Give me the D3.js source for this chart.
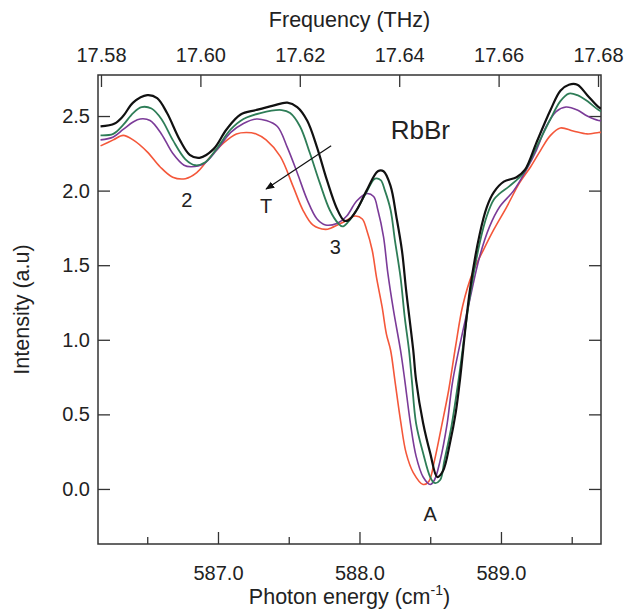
<!DOCTYPE html>
<html>
<head>
<meta charset="utf-8">
<script src="https://cdn.jsdelivr.net/npm/d3@7"></script>
<style>
  body { margin: 0; background: #fff; }
  svg { font-family: "Liberation Sans", Arial, sans-serif; }
  .tick text { font-size: 20px; fill: #222; }
</style>
</head>
<body>
<script>
const w = 626;
const h = 611;
const margin = { top: 75, right: 25, bottom: 67, left: 98 };

// photon energy (cm^-1), intensity (a.u.)
const black = [[586.17,2.43],[586.27,2.45],[586.33,2.50],[586.40,2.59],[586.50,2.64],[586.57,2.62],[586.64,2.52],[586.73,2.34],[586.80,2.24],[586.87,2.22],[586.97,2.28],[587.06,2.41],[587.16,2.51],[587.27,2.54],[587.39,2.57],[587.49,2.59],[587.56,2.56],[587.63,2.47],[587.70,2.29],[587.77,2.07],[587.84,1.88],[587.89,1.80],[587.92,1.80],[587.98,1.87],[588.05,2.00],[588.13,2.13],[588.17,2.13],[588.22,2.03],[588.26,1.83],[588.30,1.60],[588.33,1.33],[588.38,0.93],[588.40,0.73],[588.45,0.44],[588.50,0.24],[588.55,0.08],[588.59,0.12],[588.64,0.31],[588.68,0.51],[588.71,0.73],[588.78,1.33],[588.85,1.71],[588.90,1.89],[588.95,1.99],[589.02,2.06],[589.11,2.09],[589.17,2.14],[589.25,2.32],[589.35,2.54],[589.42,2.67],[589.48,2.71],[589.54,2.71],[589.61,2.64],[589.69,2.56],[589.71,2.55]];
const green = [[586.17,2.37],[586.26,2.38],[586.33,2.44],[586.40,2.52],[586.46,2.56],[586.53,2.55],[586.60,2.48],[586.68,2.34],[586.77,2.21],[586.84,2.17],[586.91,2.19],[586.99,2.28],[587.09,2.41],[587.18,2.48],[587.30,2.52],[587.45,2.54],[587.51,2.52],[587.58,2.43],[587.65,2.25],[587.72,2.05],[587.79,1.87],[587.85,1.78],[587.88,1.76],[587.92,1.79],[587.98,1.87],[588.05,1.99],[588.11,2.08],[588.15,2.07],[588.18,2.00],[588.22,1.87],[588.25,1.67],[588.29,1.42],[588.32,1.15],[588.35,0.93],[588.37,0.73],[588.40,0.44],[588.45,0.24],[588.50,0.08],[588.53,0.04],[588.57,0.06],[588.60,0.19],[588.65,0.42],[588.70,0.73],[588.78,1.29],[588.85,1.65],[588.90,1.83],[588.95,1.94],[588.99,1.98],[589.06,2.03],[589.16,2.12],[589.25,2.29],[589.35,2.48],[589.42,2.60],[589.48,2.65],[589.54,2.64],[589.61,2.60],[589.69,2.54],[589.71,2.53]];
const purple = [[586.17,2.34],[586.26,2.36],[586.33,2.41],[586.40,2.46],[586.45,2.48],[586.52,2.47],[586.60,2.38],[586.68,2.25],[586.76,2.17],[586.81,2.16],[586.90,2.18],[586.99,2.27],[587.09,2.39],[587.18,2.45],[587.27,2.48],[587.34,2.47],[587.42,2.43],[587.49,2.29],[587.56,2.12],[587.63,1.94],[587.70,1.81],[587.76,1.77],[587.84,1.78],[587.91,1.83],[587.98,1.93],[588.05,1.98],[588.10,1.96],[588.13,1.87],[588.17,1.69],[588.20,1.45],[588.24,1.20],[588.29,0.93],[588.32,0.73],[588.36,0.44],[588.40,0.22],[588.45,0.08],[588.50,0.03],[588.53,0.06],[588.57,0.19],[588.62,0.44],[588.66,0.73],[588.78,1.27],[588.85,1.56],[588.92,1.76],[588.99,1.89],[589.09,2.00],[589.18,2.14],[589.25,2.27],[589.32,2.43],[589.39,2.53],[589.46,2.56],[589.54,2.54],[589.61,2.50],[589.69,2.47],[589.71,2.47]];
const orange = [[586.17,2.30],[586.26,2.34],[586.33,2.37],[586.40,2.34],[586.50,2.26],[586.59,2.16],[586.68,2.09],[586.77,2.08],[586.85,2.12],[586.94,2.22],[587.04,2.32],[587.13,2.38],[587.20,2.39],[587.27,2.38],[587.34,2.34],[587.44,2.23],[587.53,2.03],[587.60,1.87],[587.67,1.77],[587.76,1.74],[587.80,1.75],[587.89,1.79],[587.97,1.83],[588.02,1.81],[588.05,1.74],[588.09,1.60],[588.12,1.42],[588.16,1.22],[588.19,1.04],[588.22,0.93],[588.25,0.73],[588.29,0.46],[588.33,0.24],[588.38,0.11],[588.45,0.03],[588.49,0.05],[588.53,0.19],[588.58,0.42],[588.63,0.66],[588.68,0.96],[588.73,1.23],[588.80,1.45],[588.88,1.61],[588.95,1.74],[589.04,1.89],[589.13,2.05],[589.21,2.16],[589.28,2.27],[589.35,2.37],[589.42,2.42],[589.51,2.40],[589.61,2.38],[589.69,2.39],[589.71,2.39]];

const series = [
  { name: 'orange', data: orange, color: '#f4573a', width: 1.6 },
  { name: 'purple', data: purple, color: '#7b3b98', width: 1.6 },
  { name: 'green', data: green, color: '#2e7d57', width: 1.8 },
  { name: 'black', data: black, color: '#111111', width: 2.2 }
];

const bottomTicks = [587, 588, 589];
const bottomMinor = [586.5, 587.5, 588.5, 589.5];
const topTicks = [17.58, 17.60, 17.62, 17.64, 17.66, 17.68];
const yTicks = [0, 0.5, 1.0, 1.5, 2.0, 2.5];

const notes = [
  { text: '2', x: 586.78, y: 1.94 },
  { text: 'T', x: 587.34, y: 1.90 },
  { text: '3', x: 587.83, y: 1.62 },
  { text: 'A', x: 588.50, y: -0.17 }
];

const svg = d3.select('body').append('svg').attr('width', w).attr('height', h);

const xScale = d3.scaleLinear().domain([586.152, 589.707]).range([margin.left, w - margin.right]);
const fScale = d3.scaleLinear().domain([17.5794, 17.6806]).range([margin.left, w - margin.right]);
const yScale = d3.scaleLinear().domain([-0.369, 2.775]).range([h - margin.bottom, margin.top]);

svg.append('defs').append('clipPath').attr('id', 'clip')
  .append('rect')
  .attr('x', margin.left).attr('y', margin.top)
  .attr('width', w - margin.left - margin.right)
  .attr('height', h - margin.top - margin.bottom);

// axes (ticks point inward)
const axisStyle = (g) => {
  g.select('.domain').remove();
  g.selectAll('.tick line').attr('stroke', '#333').attr('stroke-width', 1.3);
};

svg.append('g')
  .attr('transform', 'translate(0,' + (h - margin.bottom) + ')')
  .call(d3.axisBottom(xScale).tickValues(bottomTicks).tickFormat(d3.format('.1f')).tickSizeInner(-12).tickPadding(22))
  .call(axisStyle);

svg.append('g')
  .attr('transform', 'translate(0,' + (h - margin.bottom) + ')')
  .call(d3.axisBottom(xScale).tickValues(bottomMinor).tickFormat('').tickSizeInner(-7))
  .call(axisStyle);

svg.append('g')
  .attr('transform', 'translate(0,' + margin.top + ')')
  .call(d3.axisTop(fScale).tickValues(topTicks).tickFormat(d3.format('.2f')).tickSizeInner(-12).tickPadding(13))
  .call(axisStyle);

svg.append('g')
  .attr('transform', 'translate(' + margin.left + ',0)')
  .call(d3.axisLeft(yScale).tickValues(yTicks).tickFormat(d3.format('.1f')).tickSizeInner(-12).tickPadding(8))
  .call(axisStyle);

svg.append('g')
  .attr('transform', 'translate(' + (w - margin.right) + ',0)')
  .call(d3.axisRight(yScale).tickValues(yTicks).tickFormat('').tickSizeInner(-12))
  .call(axisStyle);

// frame
svg.append('rect')
  .attr('x', margin.left).attr('y', margin.top)
  .attr('width', w - margin.left - margin.right)
  .attr('height', h - margin.top - margin.bottom)
  .attr('fill', 'none').attr('stroke', '#333').attr('stroke-width', 1.5);

// curves
const line = d3.line()
  .x((d) => xScale(d[0]))
  .y((d) => yScale(d[1]))
  .curve(d3.curveCatmullRom.alpha(0.5));

svg.append('g').attr('clip-path', 'url(#clip)')
  .selectAll('path')
  .data(series)
  .enter()
  .append('path')
  .attr('d', (d) => line(d.data))
  .attr('fill', 'none')
  .attr('stroke', (d) => d.color)
  .attr('stroke-width', (d) => d.width)
  .attr('stroke-linejoin', 'round');

// arrow for T
svg.append('defs').append('marker')
  .attr('id', 'head')
  .attr('viewBox', '0 0 10 10')
  .attr('refX', 9).attr('refY', 5)
  .attr('markerWidth', 9).attr('markerHeight', 9)
  .attr('markerUnits', 'userSpaceOnUse')
  .attr('orient', 'auto')
  .append('path')
  .attr('d', 'M0,1 L10,5 L0,9 Z')
  .attr('fill', '#111');

svg.append('line')
  .attr('x1', xScale(587.80)).attr('y1', yScale(2.30))
  .attr('x2', xScale(587.34)).attr('y2', yScale(2.01))
  .attr('stroke', '#111').attr('stroke-width', 1.2)
  .attr('marker-end', 'url(#head)');

svg.selectAll('.note')
  .data(notes)
  .enter()
  .append('text')
  .attr('class', 'note')
  .attr('x', (d) => xScale(d.x))
  .attr('y', (d) => yScale(d.y))
  .attr('text-anchor', 'middle')
  .attr('dy', '0.35em')
  .attr('font-size', 20)
  .attr('fill', '#222')
  .text((d) => d.text);

svg.append('text')
  .attr('x', xScale(588.43)).attr('y', yScale(2.41))
  .attr('text-anchor', 'middle').attr('dy', '0.35em')
  .attr('font-size', 26).attr('fill', '#222')
  .text('RbBr');

// axis titles
svg.append('text')
  .attr('x', (margin.left + w - margin.right) / 2).attr('y', 27)
  .attr('text-anchor', 'middle').attr('font-size', 21.5).attr('fill', '#222')
  .text('Frequency (THz)');

const xt = svg.append('text')
  .attr('x', (margin.left + w - margin.right) / 2).attr('y', 604)
  .attr('text-anchor', 'middle').attr('font-size', 21.5).attr('fill', '#222');
xt.append('tspan').text('Photon energy (cm');
xt.append('tspan').attr('font-size', 14).attr('dy', -9).text('-1');
xt.append('tspan').attr('dy', 9).text(')');

svg.append('text')
  .attr('transform', 'translate(29,' + ((margin.top + h - margin.bottom) / 2) + ') rotate(-90)')
  .attr('text-anchor', 'middle').attr('font-size', 21.5).attr('fill', '#222')
  .text('Intensity (a.u)');
</script>
</body>
</html>
